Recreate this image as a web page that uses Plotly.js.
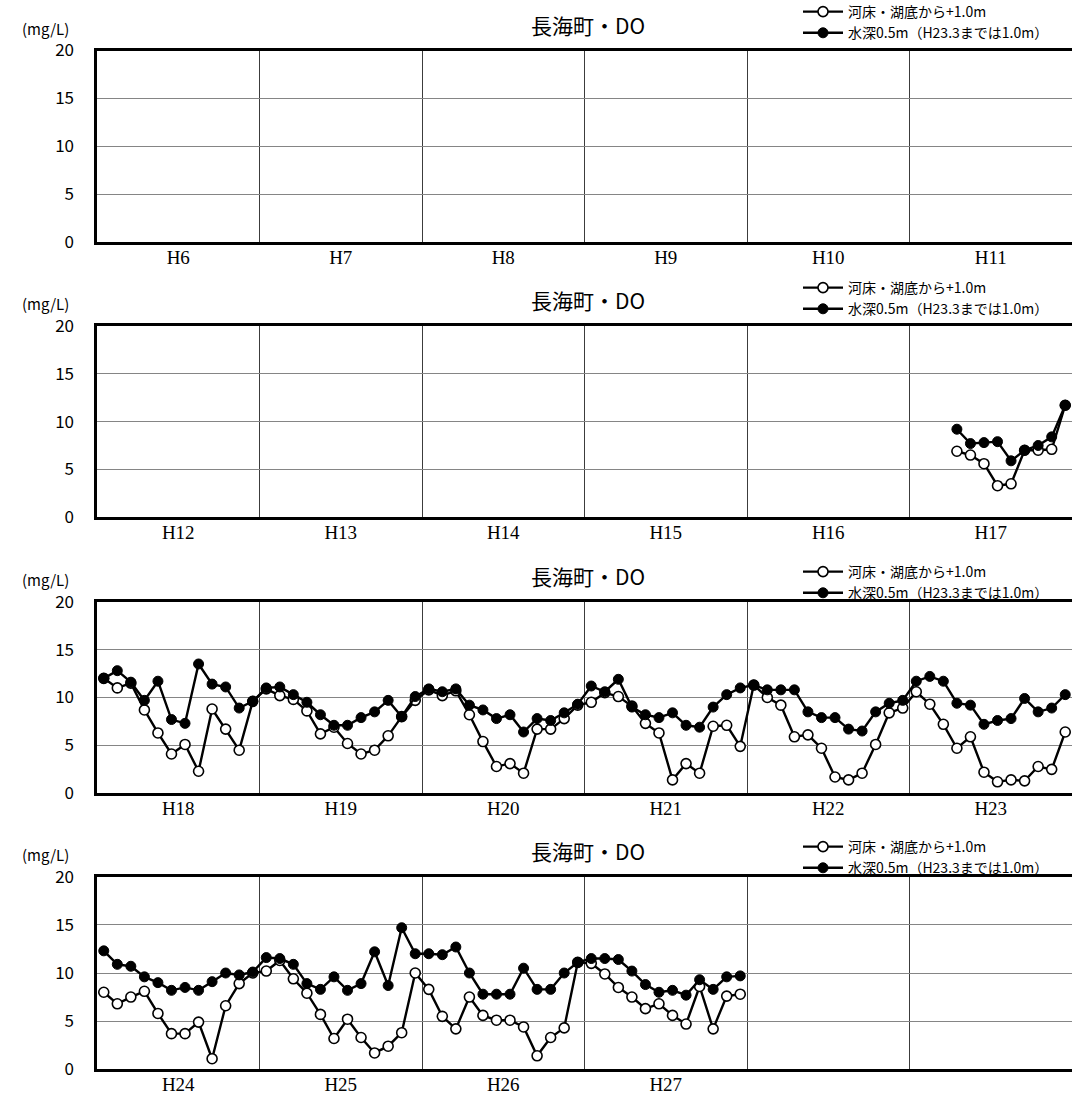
<!DOCTYPE html>
<html>
<head>
<meta charset="utf-8">
<script src="https://cdn.plot.ly/plotly-3.0.1.min.js"></script>
<style>
html,body{margin:0;padding:0;background:#fff;}
#chart{width:1072px;height:1102px;}
</style>
</head>
<body>
<div id="chart"></div>
<script>
// ---- data ----
const chartTitle = '長海町・DO';
const unitLabel = '(mg/L)';
const seriesBottomName = '河床・湖底から+1.0m';
const seriesSurfaceName = '水深0.5m（H23.3までは1.0m）';

const panelYears1 = ['H6','H7','H8','H9','H10','H11'];
const panelYears2 = ['H12','H13','H14','H15','H16','H17'];
const panelYears3 = ['H18','H19','H20','H21','H22','H23'];
const panelYears4 = ['H24','H25','H26','H27','',''];
const panelFirstYear = [6, 12, 18, 24];

const dataFirstYear = 17; // data arrays start at H17 April (fiscal-year months Apr..Mar)
// 河床・湖底から+1.0m (open circles)
const bottomDO = [
  null, null, null, 6.9, 6.5, 5.6, 3.3, 3.5, 7.0, 7.0, 7.1, 11.7,   // H17
  12.0, 11.0, 11.5, 8.7, 6.3, 4.1, 5.1, 2.3, 8.8, 6.7, 4.5, 9.6,    // H18
  10.9, 10.2, 9.8, 8.6, 6.2, 6.9, 5.2, 4.1, 4.5, 6.0, 8.0, 9.7,     // H19
  10.8, 10.2, 10.7, 8.2, 5.4, 2.8, 3.1, 2.1, 6.7, 6.7, 7.8, 9.2,    // H20
  9.5, 10.5, 10.1, 9.1, 7.3, 6.3, 1.4, 3.1, 2.1, 7.0, 7.1, 4.9,     // H21
  11.3, 10.0, 9.2, 5.9, 6.1, 4.7, 1.7, 1.4, 2.1, 5.1, 8.4, 8.9,     // H22
  10.6, 9.3, 7.2, 4.7, 5.9, 2.2, 1.2, 1.4, 1.3, 2.8, 2.5, 6.4,      // H23
  8.0, 6.8, 7.5, 8.1, 5.8, 3.7, 3.7, 4.9, 1.1, 6.6, 8.9, 10.0,      // H24
  10.2, 11.3, 9.4, 7.9, 5.7, 3.2, 5.2, 3.3, 1.7, 2.4, 3.8, 10.0,    // H25
  8.3, 5.5, 4.2, 7.5, 5.6, 5.1, 5.1, 4.4, 1.4, 3.3, 4.3, 11.1,      // H26
  11.0, 9.9, 8.5, 7.5, 6.3, 6.8, 5.6, 4.7, 8.6, 4.2, 7.6, 7.8       // H27
];
// 水深0.5m (filled circles)
const surfaceDO = [
  null, null, null, 9.2, 7.7, 7.8, 7.9, 5.9, 7.0, 7.5, 8.4, 11.7,   // H17
  12.0, 12.8, 11.6, 9.7, 11.7, 7.7, 7.3, 13.5, 11.4, 11.1, 8.9, 9.6, // H18
  11.0, 11.1, 10.3, 9.5, 8.2, 7.1, 7.1, 7.9, 8.5, 9.7, 8.0, 10.1,   // H19
  10.9, 10.6, 10.9, 9.2, 8.7, 7.8, 8.2, 6.4, 7.8, 7.6, 8.4, 9.3,    // H20
  11.2, 10.6, 11.9, 9.0, 8.2, 7.9, 8.4, 7.1, 6.9, 9.0, 10.3, 11.0,  // H21
  11.3, 10.8, 10.8, 10.8, 8.5, 7.9, 7.9, 6.7, 6.5, 8.5, 9.4, 9.7,   // H22
  11.7, 12.2, 11.7, 9.4, 9.2, 7.2, 7.6, 7.8, 9.9, 8.5, 8.9, 10.3,   // H23
  12.3, 10.9, 10.7, 9.6, 9.0, 8.2, 8.5, 8.2, 9.1, 10.0, 9.8, 10.1,  // H24
  11.6, 11.5, 10.9, 8.9, 8.3, 9.6, 8.2, 8.9, 12.2, 8.7, 14.7, 12.0, // H25
  12.0, 11.9, 12.7, 10.0, 7.8, 7.8, 7.8, 10.5, 8.3, 8.3, 10.0, 11.1,// H26
  11.5, 11.5, 11.4, 10.2, 8.8, 8.0, 8.2, 7.7, 9.3, 8.3, 9.6, 9.7    // H27
];
const yTicks = [0, 5, 10, 15, 20];

// ---- layout geometry (pixels) ----
const W = 1072, H = 1102;
const ML = 97, MR = 0;
const panelTopPx = [50.5, 325.8, 601.7, 876.7];
const panelBotPx = [242.3, 517.3, 793.3, 1069.3];
const legendBottomPx = [49, 325, 609, 884];
const panelYears = [panelYears1, panelYears2, panelYears3, panelYears4];

const px2py = p => (H - p) / H;
const px2x = p => (p - ML) / (W - ML - MR);

const jpFont = '"Noto Sans CJK JP", "Noto Sans", sans-serif';
const serifFont = '"Liberation Serif", "DejaVu Serif", serif';

const traces = [];
const layout = {
  width: W, height: H,
  margin: {l: ML, r: MR, t: 0, b: 0, pad: 0, autoexpand: false},
  paper_bgcolor: '#fff', plot_bgcolor: '#fff',
  showlegend: true,
  annotations: [],
  font: {family: jpFont, color: '#000'}
};

function valueAt(arr, fy, m) {
  const k = (fy - dataFirstYear) * 12 + m;
  if (k < 0 || k >= arr.length) return null;
  return arr[k];
}

for (let p = 0; p < 4; p++) {
  const sfx = p === 0 ? '' : String(p + 1);
  const xa = 'x' + sfx, ya = 'y' + sfx;
  const leg = 'legend' + sfx;
  const xs = [], yb = [], ys = [];
  for (let i = 0; i < 72; i++) {
    const fy = panelFirstYear[p] + Math.floor(i / 12);
    xs.push(i + 0.5);
    yb.push(valueAt(bottomDO, fy, i % 12));
    ys.push(valueAt(surfaceDO, fy, i % 12));
  }
  traces.push({
    type: 'scatter', mode: 'lines+markers', name: seriesBottomName,
    x: xs, y: yb, xaxis: xa, yaxis: ya, legend: leg, connectgaps: false, cliponaxis: false,
    line: {color: '#000', width: 2.4},
    marker: {symbol: 'circle', size: 10, color: '#fff', line: {color: '#000', width: 1.6}}
  });
  traces.push({
    type: 'scatter', mode: 'lines+markers', name: seriesSurfaceName,
    x: xs, y: ys, xaxis: xa, yaxis: ya, legend: leg, connectgaps: false, cliponaxis: false,
    line: {color: '#000', width: 2.4},
    marker: {symbol: 'circle', size: 10, color: '#000', line: {color: '#000', width: 1}}
  });

  const top = panelTopPx[p], bot = panelBotPx[p];
  layout['xaxis' + sfx] = {
    domain: [0, 1], range: [0, 72], anchor: ya, fixedrange: true,
    tickmode: 'array', tickvals: [6, 18, 30, 42, 54, 66], ticktext: panelYears[p],
    ticks: '', showgrid: false, zeroline: false,
    showline: true, mirror: true, linecolor: '#000', linewidth: 2.6,
    tickfont: {family: serifFont, size: 19, color: '#000'},
    ticklabelstandoff: -4,
    minor: {tickmode: 'linear', tick0: 0, dtick: 12, showgrid: true, gridcolor: '#3c3c3c', gridwidth: 1, ticks: ''}
  };
  layout['yaxis' + sfx] = {
    domain: [px2py(bot), px2py(top)], range: [0, 20], anchor: xa, fixedrange: true,
    tickmode: 'array', tickvals: yTicks, ticks: '',
    showgrid: true, gridcolor: '#858585', gridwidth: 1, zeroline: false,
    showline: true, mirror: true, linecolor: '#000', linewidth: 2.6,
    tickfont: {family: jpFont, size: 17, color: '#000'},
    ticklabelstandoff: 17
  };
  layout[leg] = {
    x: px2x(798), xanchor: 'left', xref: 'paper',
    y: px2py(legendBottomPx[p]), yanchor: 'bottom', yref: 'paper',
    bgcolor: 'rgba(0,0,0,0)', borderwidth: 0,
    font: {family: jpFont, size: 14, color: '#000'},
    itemwidth: 40, tracegroupgap: 0, traceorder: 'normal'
  };
  layout.annotations.push({
    text: chartTitle, xref: 'paper', yref: 'paper', showarrow: false,
    x: px2x(588), y: px2py(top - 25.5), xanchor: 'center', yanchor: 'middle',
    font: {family: jpFont, size: 21, color: '#000'}
  });
  layout.annotations.push({
    text: unitLabel, xref: 'paper', yref: 'paper', showarrow: false,
    x: px2x(71), y: px2py(top - 22), xanchor: 'right', yanchor: 'middle',
    font: {family: jpFont, size: 15, color: '#000'}
  });
}

Plotly.newPlot('chart', traces, layout, {displayModeBar: false, staticPlot: true});
</script>
</body>
</html>
